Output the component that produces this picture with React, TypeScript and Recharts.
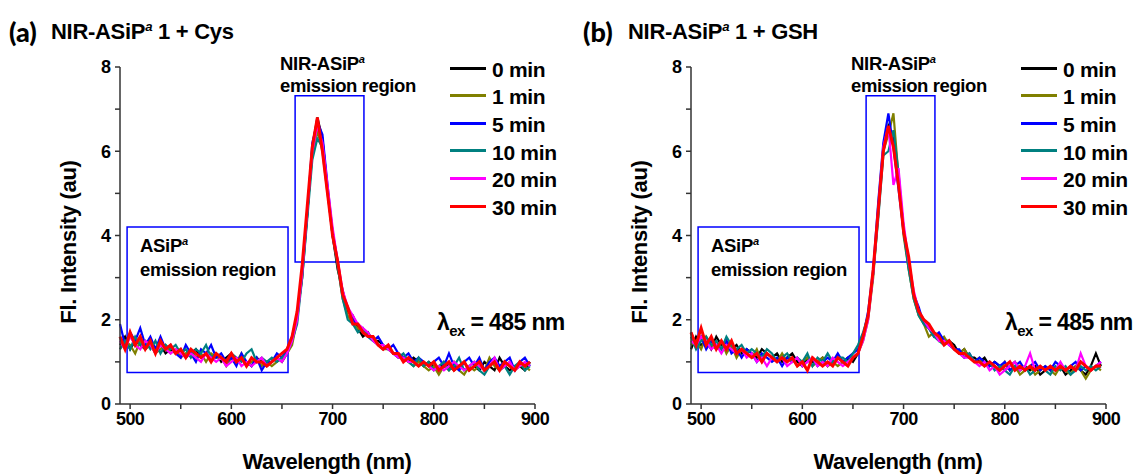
import React from 'react';
import { LineChart, Line, XAxis, YAxis, ReferenceArea } from 'recharts';

const wavelengths = [
  490, 495, 500, 505, 510, 515, 520, 525, 530, 535,
  540, 545, 550, 555, 560, 565, 570, 575, 580, 585,
  590, 595, 600, 605, 610, 615, 620, 625, 630, 635,
  640, 645, 650, 655, 660, 665, 670, 675, 680, 685,
  690, 695, 700, 705, 710, 715, 720, 725, 730, 735,
  740, 745, 750, 755, 760, 765, 770, 775, 780, 785,
  790, 795, 800, 805, 810, 815, 820, 825, 830, 835,
  840, 845, 850, 855, 860, 865, 870, 875, 880, 885,
  890, 895,
];

const seriesNames = ['0 min', '1 min', '5 min', '10 min', '20 min', '30 min'];
const seriesColors = ['#000000', '#808000', '#0000ff', '#008080', '#ff00ff', '#ff0000'];
const xTicks = [500, 550, 600, 650, 700, 750, 800, 850, 900];
const yTicks = [0, 1, 2, 3, 4, 5, 6, 7, 8];

// (a) + Cys
const cys0 = [
  1.4, 1.6, 1.3, 1.5, 1.4, 1.3, 1.5, 1.3, 1.4, 1.2,
  1.3, 1.2, 1.3, 1.1, 1.2, 1.3, 1.1, 1.2, 1.1, 1.2,
  1.0, 1.1, 1.2, 1.0, 1.1, 1.0, 0.9, 1.1, 1.0, 0.9,
  1.0, 1.1, 1.0, 1.2, 1.5, 2.1, 3.0, 4.5, 6.1, 6.8,
  6.3, 5.1, 4.0, 3.2, 2.7, 2.2, 2.1, 1.8, 1.6, 1.7,
  1.5, 1.5, 1.4, 1.3, 1.2, 1.2, 1.1, 1.0, 1.1, 1.0,
  0.9, 1.0, 0.9, 0.8, 1.0, 0.9, 0.8, 0.9, 1.0, 0.8,
  0.9, 0.8, 1.0, 0.9, 0.8, 1.1, 0.9, 0.8, 0.9, 0.9,
  0.8, 1.0,
];
const cys1 = [
  1.3, 1.5, 1.4, 1.2, 1.5, 1.3, 1.4, 1.2, 1.3, 1.4,
  1.2, 1.3, 1.1, 1.2, 1.3, 1.1, 1.2, 1.0, 1.2, 1.1,
  1.1, 0.9, 1.1, 1.0, 1.2, 0.9, 1.0, 1.1, 0.9, 1.0,
  0.9, 1.0, 1.1, 1.2, 1.4, 2.0, 3.1, 4.6, 5.9, 6.5,
  6.0, 5.0, 4.1, 3.3, 2.5, 2.1, 1.9, 1.8, 1.7, 1.6,
  1.6, 1.4, 1.3, 1.3, 1.2, 1.1, 1.1, 1.0, 0.9, 1.0,
  0.9, 0.8, 0.9, 0.7, 0.9, 0.8, 1.0, 0.8, 0.7, 0.9,
  0.8, 0.9, 0.8, 1.1, 0.9, 0.8, 0.9, 1.0, 0.8, 0.9,
  0.9, 0.8,
];
const cys5 = [
  1.9, 1.4, 1.7, 1.5, 1.8, 1.4, 1.6, 1.3, 1.6, 1.3,
  1.4, 1.2, 1.1, 1.4, 1.2, 1.0, 1.3, 1.2, 1.4, 1.1,
  1.2, 1.0, 1.1, 0.9, 1.2, 1.0, 0.9, 1.1, 0.8, 1.0,
  1.0, 1.2, 1.1, 1.3, 1.6, 2.1, 3.2, 4.5, 6.2, 6.7,
  6.4, 5.2, 4.1, 3.4, 2.6, 2.3, 2.0, 1.9, 1.7, 1.6,
  1.5, 1.6, 1.4, 1.3, 1.4, 1.2, 1.1, 1.2, 1.0, 1.1,
  1.0, 0.9, 1.0, 1.1, 0.9, 1.2, 0.9, 0.8, 1.0, 1.1,
  0.9, 1.1, 0.8, 1.0, 1.1, 0.9, 1.0, 1.1, 0.8, 1.0,
  1.1, 0.9,
];
const cys10 = [
  1.3, 1.5, 1.3, 1.6, 1.4, 1.5, 1.3, 1.5, 1.2, 1.4,
  1.3, 1.4, 1.2, 1.3, 1.1, 1.3, 1.2, 1.4, 1.1, 1.2,
  1.1, 1.0, 1.2, 1.1, 1.0, 1.2, 1.3, 1.0, 1.1, 1.0,
  1.1, 1.0, 1.1, 1.2, 1.5, 1.9, 3.0, 4.4, 5.8, 6.3,
  6.1, 5.1, 4.0, 3.3, 2.5, 2.0, 1.9, 1.7, 1.8, 1.6,
  1.5, 1.4, 1.3, 1.4, 1.2, 1.1, 1.2, 1.0, 0.9, 1.1,
  0.9, 1.0, 0.8, 0.9, 1.0, 0.8, 0.9, 1.1, 0.8, 0.9,
  1.0, 0.8, 0.7, 0.9, 1.0, 0.8, 0.9, 0.7, 0.9, 1.0,
  0.8, 0.9,
];
const cys20 = [
  1.5, 1.3, 1.6, 1.4, 1.3, 1.5, 1.4, 1.2, 1.4, 1.3,
  1.2, 1.3, 1.2, 1.1, 1.2, 1.1, 1.0, 1.2, 1.1, 1.0,
  1.1, 0.9, 1.0, 1.1, 0.9, 1.0, 0.9, 1.0, 1.1, 0.9,
  1.0, 1.1, 1.0, 1.2, 1.5, 2.0, 3.1, 4.6, 6.0, 6.6,
  6.2, 5.2, 4.2, 3.4, 2.7, 2.3, 2.1, 1.9, 1.8, 1.7,
  1.5, 1.4, 1.4, 1.3, 1.2, 1.1, 1.1, 1.0, 1.0, 0.9,
  1.0, 0.9, 0.8, 0.9, 0.8, 0.9, 1.0, 0.9, 0.8, 0.9,
  1.0, 0.9, 0.8, 0.9, 1.1, 0.8, 0.9, 1.0, 0.8, 0.9,
  1.0, 0.9,
];
const cys30 = [
  1.6, 1.3, 1.7, 1.4, 1.6, 1.3, 1.5, 1.2, 1.5, 1.3,
  1.4, 1.2, 1.3, 1.1, 1.3, 1.2, 1.1, 1.2, 1.0, 1.2,
  1.1, 1.0, 1.2, 1.0, 1.1, 0.9, 1.1, 1.0, 1.0, 0.9,
  1.0, 1.1, 1.2, 1.3, 1.6, 2.2, 3.3, 4.7, 6.1, 6.8,
  6.0, 5.0, 4.0, 3.4, 2.6, 2.3, 1.9, 1.9, 1.7, 1.6,
  1.6, 1.4, 1.3, 1.4, 1.2, 1.2, 1.0, 1.1, 1.0, 0.9,
  1.0, 0.9, 1.0, 0.8, 0.9, 1.0, 0.8, 0.9, 1.0, 0.8,
  0.9, 1.0, 0.8, 0.9, 1.0, 0.8, 1.0, 0.9, 0.8, 1.0,
  0.9, 1.0,
];

// (b) + GSH
const gsh0 = [
  1.3, 1.6, 1.4, 1.5, 1.3, 1.6, 1.4, 1.5, 1.3, 1.4,
  1.2, 1.3, 1.2, 1.1, 1.3, 1.2, 1.1, 1.2, 1.0, 1.1,
  1.2, 1.0, 0.9, 1.1, 1.0, 1.0, 1.1, 0.9, 1.0, 1.1,
  1.0, 1.1, 1.0, 1.2, 1.6, 2.1, 3.1, 4.6, 6.0, 6.6,
  6.3, 5.3, 4.2, 3.3, 2.6, 2.2, 2.0, 1.8, 1.7, 1.6,
  1.5, 1.5, 1.4, 1.2, 1.3, 1.1, 1.1, 1.0, 1.1, 0.9,
  1.0, 0.9, 0.8, 0.9, 1.0, 0.8, 0.9, 0.8, 0.9, 0.7,
  0.8, 0.9, 0.8, 0.9, 0.7, 0.8, 0.9, 0.8, 0.7, 0.9,
  1.2, 0.9,
];
const gsh1 = [
  1.4, 1.5, 1.3, 1.6, 1.4, 1.3, 1.5, 1.2, 1.4, 1.1,
  1.3, 1.2, 1.1, 1.3, 1.0, 1.2, 1.1, 1.0, 1.2, 1.0,
  1.1, 0.9, 1.0, 1.1, 0.9, 1.0, 1.1, 0.9, 1.0, 0.9,
  1.0, 1.0, 1.1, 1.2, 1.5, 2.0, 3.0, 4.5, 6.0, 6.4,
  6.9, 5.4, 4.0, 3.2, 2.5, 2.1, 1.9, 1.6, 1.7, 1.5,
  1.6, 1.4, 1.3, 1.2, 1.3, 1.1, 1.0, 1.1, 0.9, 1.0,
  0.9, 0.8, 1.0, 0.8, 0.9, 0.7, 0.8, 0.9, 0.7, 0.8,
  0.9, 0.8, 0.7, 0.9, 0.8, 0.7, 0.9, 0.8, 0.6, 0.8,
  0.9, 0.8,
];
const gsh5 = [
  1.7, 1.4, 1.6, 1.3, 1.5, 1.4, 1.3, 1.5, 1.2, 1.3,
  1.1, 1.3, 1.2, 1.0, 1.2, 1.1, 1.0, 1.1, 0.9, 1.1,
  1.0, 1.1, 0.9, 1.0, 1.1, 0.9, 1.0, 1.1, 1.0, 1.2,
  1.0, 1.1, 1.2, 1.3, 1.6, 2.2, 3.2, 4.8, 6.2, 6.9,
  6.1, 5.1, 4.1, 3.3, 2.6, 2.3, 1.9, 1.8, 1.6, 1.7,
  1.5, 1.4, 1.3, 1.3, 1.1, 1.2, 1.0, 1.1, 1.0, 0.9,
  1.0, 0.9, 1.0, 0.8, 0.9, 1.0, 0.8, 0.9, 1.0, 0.8,
  0.9, 0.8, 1.0, 0.9, 0.8, 0.9, 1.0, 0.8, 0.9, 0.8,
  0.9, 1.0,
];
const gsh10 = [
  1.6, 1.3, 1.5, 1.6, 1.4, 1.5, 1.3, 1.6, 1.4, 1.3,
  1.4, 1.2, 1.3, 1.2, 1.1, 1.3, 1.2, 1.0, 1.1, 1.2,
  1.0, 1.1, 1.0, 1.2, 0.9, 1.1, 1.0, 1.2, 1.0, 1.1,
  1.1, 1.0, 1.2, 1.4, 1.7, 2.1, 3.1, 4.4, 5.9, 6.0,
  6.5, 5.5, 4.1, 3.2, 2.5, 2.1, 1.9, 1.8, 1.6, 1.5,
  1.4, 1.5, 1.3, 1.2, 1.1, 1.2, 1.0, 1.0, 0.9, 1.0,
  0.8, 0.9, 0.8, 0.7, 0.9, 0.8, 0.9, 0.7, 0.8, 0.9,
  0.8, 0.7, 0.9, 0.8, 0.9, 0.7, 0.8, 0.9, 0.8, 0.9,
  0.8, 0.9,
];
const gsh20 = [
  1.5, 1.4, 1.6, 1.5, 1.3, 1.4, 1.2, 1.4, 1.3, 1.2,
  1.3, 1.1, 1.2, 1.0, 1.1, 0.9, 1.1, 1.0, 1.1, 0.9,
  1.0, 1.1, 0.9, 1.0, 1.1, 0.9, 1.0, 0.9, 1.1, 1.0,
  0.9, 1.0, 1.1, 1.2, 1.5, 2.0, 3.1, 4.6, 6.1, 6.6,
  5.2, 5.6, 4.3, 3.4, 2.7, 2.2, 2.0, 1.8, 1.7, 1.5,
  1.5, 1.4, 1.3, 1.2, 1.1, 1.1, 1.0, 0.9, 1.0, 0.8,
  0.9, 0.7, 0.8, 0.9, 1.0, 0.8, 0.9, 1.2, 0.8, 0.9,
  0.8, 0.9, 0.8, 1.0, 0.8, 0.9, 0.8, 1.2, 0.9, 0.8,
  0.9, 1.0,
];
const gsh30 = [
  1.7, 1.4, 1.8, 1.4, 1.6, 1.3, 1.5, 1.3, 1.5, 1.2,
  1.3, 1.2, 1.1, 1.2, 1.0, 1.2, 1.1, 1.0, 1.1, 1.0,
  1.1, 0.9, 1.0, 0.8, 1.1, 1.0, 0.9, 1.0, 0.9, 1.1,
  1.0, 0.9, 1.1, 1.2, 1.6, 2.1, 3.2, 4.6, 6.0, 6.6,
  6.1, 5.2, 4.1, 3.5, 2.6, 2.2, 2.0, 1.9, 1.7, 1.6,
  1.4, 1.5, 1.3, 1.2, 1.2, 1.1, 1.0, 1.0, 0.9, 1.0,
  0.9, 0.8, 0.9, 1.0, 0.8, 0.9, 0.8, 0.9, 0.8, 0.9,
  0.8, 0.9, 0.8, 0.9, 0.8, 0.9, 0.8, 1.0, 0.9, 0.8,
  0.9, 0.9,
];

// highlight boxes, in data units: [x1, x2, y1, y2]
const asipBox = [497, 656, 0.75, 4.2];
const nirBox = [663, 731, 3.37, 7.32];

const FONT = '"Liberation Sans", Arial, Helvetica, sans-serif';
const AXIS = '#333';

const txt = (left: number, cy: number, size: number, extra: React.CSSProperties = {}): React.CSSProperties => ({
  position: 'absolute',
  left,
  top: cy - size * 0.49,
  fontFamily: FONT,
  fontWeight: 700,
  fontSize: size,
  lineHeight: 1,
  whiteSpace: 'nowrap',
  color: '#000',
  ...extra,
});

const Sup = () => (
  <span style={{ fontStyle: 'italic', fontSize: '0.6em', position: 'relative', top: '-0.6em' }}>a</span>
);

interface PanelProps {
  dx: number;
  tag: string;
  tagX: number;
  title: string;
  titleX: number;
  lambdaX: number;
  series: number[][];
}

function Panel({ dx, tag, tagX, title, titleX, lambdaX, series }: PanelProps) {
  const rows = wavelengths.map((wl, i) => {
    const r: Record<string, number> = { wl };
    series.forEach((s, k) => {
      r['s' + k] = s[i];
    });
    return r;
  });

  return (
    <>
      <div style={{ position: 'absolute', left: dx, top: 0 }}>
        <LineChart width={560} height={475} data={rows} margin={{ top: 67, right: 25, bottom: 41, left: 80 }}>
          <XAxis
            dataKey="wl"
            type="number"
            domain={[490, 900]}
            ticks={xTicks}
            interval={0}
            height={30}
            tickFormatter={(v: number) => (v % 100 === 0 ? String(v) : '')}
            tick={{ fill: '#000', fontSize: 18, fontWeight: 700, fontFamily: FONT, letterSpacing: -0.6 }}
            tickSize={5}
            tickMargin={3}
            stroke={AXIS}
            strokeWidth={1.5}
          />
          <YAxis
            type="number"
            domain={[0, 8]}
            ticks={yTicks}
            interval={0}
            width={40}
            tickFormatter={(v: number) => (v % 2 === 0 ? String(v) : '')}
            tick={{ fill: '#000', fontSize: 18, fontWeight: 700, fontFamily: FONT }}
            tickSize={5}
            tickMargin={4}
            stroke={AXIS}
            strokeWidth={1.5}
          />
          <ReferenceArea x1={asipBox[0]} x2={asipBox[1]} y1={asipBox[2]} y2={asipBox[3]} fill="none" fillOpacity={0} stroke="#0000ff" strokeWidth={1.5} />
          <ReferenceArea x1={nirBox[0]} x2={nirBox[1]} y1={nirBox[2]} y2={nirBox[3]} fill="none" fillOpacity={0} stroke="#0000ff" strokeWidth={1.5} />
          {seriesNames.map((name, k) => (
            <Line
              key={name}
              dataKey={'s' + k}
              name={name}
              type="linear"
              stroke={seriesColors[k]}
              strokeWidth={k === 5 ? 3 : 2.2}
              dot={false}
              isAnimationActive={false}
            />
          ))}
        </LineChart>
      </div>

      {/* titles */}
      <div style={txt(dx + tagX, 31, 27, { fontFamily: 'Lato, "Open Sans", sans-serif', fontWeight: 900 })}>{tag}</div>
      <div style={txt(dx + titleX, 32, 22, { letterSpacing: -0.3 })}>
        NIR-ASiP<Sup /> {title}
      </div>

      {/* axis labels */}
      <div style={txt(dx + 327 - 100, 462, 22, { width: 200, textAlign: 'center', letterSpacing: -0.5 })}>Wavelength (nm)</div>
      <div
        style={{
          ...txt(dx + 69 - 110, 242, 22, { width: 220, textAlign: 'center', letterSpacing: -0.3 }),
          transform: 'rotate(-90deg)',
        }}
      >
        Fl. Intensity (au)
      </div>

      {/* region annotations */}
      <div style={txt(dx + 280, 64, 18.5, { letterSpacing: -0.3 })}>
        NIR-ASiP<Sup />
      </div>
      <div style={txt(dx + 280, 86, 18.5, { letterSpacing: -0.4 })}>emission region</div>
      <div style={txt(dx + 140, 246, 18.5, { letterSpacing: -0.3 })}>
        ASiP<Sup />
      </div>
      <div style={txt(dx + 140, 270, 18.5, { letterSpacing: -0.4 })}>emission region</div>

      {/* excitation wavelength */}
      <div style={txt(dx + lambdaX, 322, 23, { letterSpacing: -0.6 })}>
        λ<span style={{ fontSize: '0.65em', position: 'relative', top: '0.4em' }}>ex</span> = 485 nm
      </div>

      {/* legend */}
      {seriesNames.map((name, k) => (
        <React.Fragment key={name}>
          <div
            style={{
              position: 'absolute',
              left: dx + 450,
              top: 68 + k * 27.6 - 1.5,
              width: 36,
              height: 3,
              background: seriesColors[k],
            }}
          />
          <div style={txt(dx + 492, 69 + k * 27.6, 21, { letterSpacing: -0.3 })}>{name}</div>
        </React.Fragment>
      ))}
    </>
  );
}

export default function App() {
  return (
    <div style={{ position: 'absolute', left: 0, top: 0, width: 1138, height: 475, background: '#fff', overflow: 'hidden' }}>
      <Panel dx={0} tag="(a)" tagX={9} title="1 + Cys" titleX={51} lambdaX={437} series={[cys0, cys1, cys5, cys10, cys20, cys30]} />
      <Panel dx={571} tag="(b)" tagX={12} title="1 + GSH" titleX={57} lambdaX={434} series={[gsh0, gsh1, gsh5, gsh10, gsh20, gsh30]} />
    </div>
  );
}
